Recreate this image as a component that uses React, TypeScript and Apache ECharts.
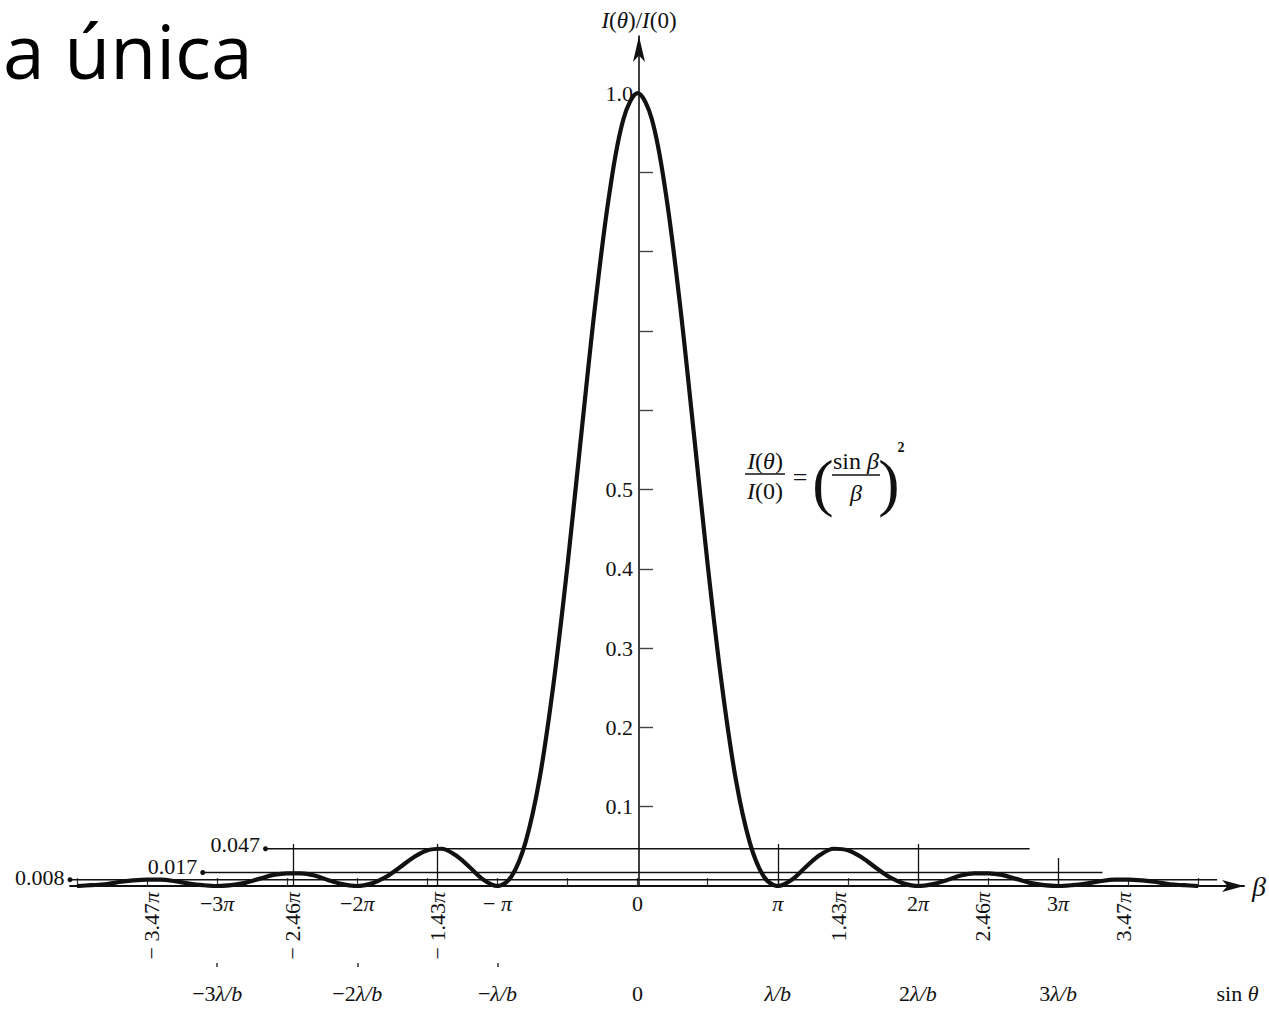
import React, { useEffect, useRef } from "react";
import * as echarts from "echarts";

// beta / pi sample positions and intensity I(θ)/I(0)
const BETA_OVER_PI = [
  -4.0, -3.9, -3.8, -3.7, -3.6, -3.5, -3.4, -3.3, -3.2, -3.1,
  -3.0, -2.9, -2.8, -2.7, -2.6, -2.5, -2.4, -2.3, -2.2, -2.1,
  -2.0, -1.9, -1.8, -1.7, -1.6, -1.5, -1.4, -1.3, -1.2, -1.1,
  -1.0, -0.9, -0.8, -0.7, -0.6, -0.5, -0.4, -0.3, -0.2, -0.1,
  0.0,
  0.1, 0.2, 0.3, 0.4, 0.5, 0.6, 0.7, 0.8, 0.9, 1.0,
  1.1, 1.2, 1.3, 1.4, 1.5, 1.6, 1.7, 1.8, 1.9, 2.0,
  2.1, 2.2, 2.3, 2.4, 2.5, 2.6, 2.7, 2.8, 2.9, 3.0,
  3.1, 3.2, 3.3, 3.4, 3.5, 3.6, 3.7, 3.8, 3.9, 4.0,
];
const INTENSITY = [
  0.0, 0.001, 0.002, 0.005, 0.007, 0.008, 0.008, 0.006, 0.003, 0.001,
  0.0, 0.001, 0.004, 0.009, 0.014, 0.016, 0.016, 0.013, 0.007, 0.002,
  0.0, 0.003, 0.011, 0.023, 0.036, 0.045, 0.047, 0.039, 0.024, 0.008,
  0.0, 0.012, 0.055, 0.135, 0.255, 0.405, 0.573, 0.737, 0.875, 0.968,
  1.0,
  0.968, 0.875, 0.737, 0.573, 0.405, 0.255, 0.135, 0.055, 0.012, 0.0,
  0.008, 0.024, 0.039, 0.047, 0.045, 0.036, 0.023, 0.011, 0.003, 0.0,
  0.002, 0.007, 0.013, 0.016, 0.016, 0.014, 0.009, 0.004, 0.001, 0.0,
  0.001, 0.003, 0.006, 0.008, 0.008, 0.007, 0.005, 0.002, 0.001, 0.0,
];

// secondary-maxima reference levels
const REF_LEVELS = [0.047, 0.017, 0.008];
const REF_LABELS = ["0.047", "0.017", "0.008"];
const REF_START = [-2.655, -3.103, -4.05];
const REF_END = [2.797, 3.317, 4.135];

// axis ticks / labels (beta in units of pi)
const PI_LABELS = [-3, -2, -1, 0, 1, 2, 3];
const HALF_PI_TICKS = [-4, -3.5, -3, -2.5, -2, -1.5, -1, -0.5, 0, 0.5, 1, 1.5, 2, 2.5, 3, 3.5, 4];
const MAXIMA_LABELS = [-3.47, -2.46, -1.43, 1.43, 2.46, 3.47];
const TALL_TICKS = [-2.46, -1.43, 1, 2];
const MID_TICKS = [3];
const SIN_LABELS = [-3, -2, -1, 0, 1, 2, 3, 4.28];
const SIN_MARKS = [-3, -2, -1];
const Y_LABELS = [0.1, 0.2, 0.3, 0.4, 0.5, 1.0];
const Y_TICKS = [0.1, 0.2, 0.3, 0.4, 0.5, 0.6, 0.7, 0.8, 0.9];

const X_MIN = -4.05;
const X_MAX = 4.327;
const Y_MAX = 1.072;

const GRID_LEFT = 70;
const GRID_RIGHT = 22;
const GRID_TOP = 36;
const GRID_BOTTOM = 123;
const Y_AXIS_PX = 639;
const REF_LABEL_RAISE = [-4, -6, -2];

const SERIF = '"Liberation Serif", "DejaVu Serif", serif';
const INK = "#111";
const FS = 22;

const rich = {
  n: { fontFamily: SERIF, fontSize: FS, color: INK },
  i: { fontFamily: SERIF, fontSize: FS, color: INK, fontStyle: "italic" },
};
const eqRich = {
  n: { fontFamily: SERIF, fontSize: 24, color: INK },
  i: { fontFamily: SERIF, fontSize: 24, color: INK, fontStyle: "italic" },
};
const nameRich = {
  n: { fontFamily: SERIF, fontSize: 23, color: INK },
  i: { fontFamily: SERIF, fontSize: 23, color: INK, fontStyle: "italic" },
};

function piLabel(v: number): string {
  if (v === 0) return "{n|0}";
  const sign = v < 0 ? "−" : "";
  const a = Math.abs(v);
  const coef = a === 1 ? "" : String(a);
  const head = sign + (sign && !coef ? " " : "") + coef;
  return (head ? `{n|${head}}` : "") + "{i|π}";
}

function sinLabel(v: number): string {
  if (v === 0) return "{n|0}";
  if (v > 4) return "{n|sin }{i|θ}";
  const sign = v < 0 ? "−" : "";
  const a = Math.abs(v);
  const coef = a === 1 ? "" : String(a);
  const head = sign + coef;
  return (head ? `{n|${head}}` : "") + "{i|λ/b}";
}

function baseX(extra: any) {
  return {
    type: "value",
    min: X_MIN,
    max: X_MAX,
    position: "bottom",
    splitLine: { show: false },
    axisLine: { show: false, onZero: false },
    axisTick: { show: false },
    axisLabel: { show: false },
    ...extra,
  };
}

export default function App() {
  const ref = useRef<HTMLDivElement>(null);

  useEffect(() => {
    if (!ref.current) return;
    const chart = echarts.init(ref.current, undefined, { renderer: "svg" });

    const refSeries = REF_LEVELS.map((lvl, k) => ({
      type: "line",
      xAxisIndex: 0,
      yAxisIndex: 0,
      clip: false,
      silent: true,
      lineStyle: { color: INK, width: 1.5 },
      itemStyle: { color: INK },
      data: [
        {
          value: [REF_START[k], lvl],
          symbol: "circle",
          symbolSize: 5,
          label: {
            show: true,
            position: "left",
            distance: 3,
            offset: [0, REF_LABEL_RAISE[k]],
            formatter: REF_LABELS[k],
            fontFamily: SERIF,
            fontSize: FS,
            color: INK,
          },
        },
        { value: [REF_END[k], lvl], symbol: "none" },
      ],
    }));

    const t = (text: string, x: number, y: number, style: any = {}) => ({
      type: "text",
      x,
      y,
      silent: true,
      style: { text, align: "center", verticalAlign: "middle", fill: INK, ...style },
    });

    const option: any = {
      animation: false,
      backgroundColor: "#fff",
      grid: { left: GRID_LEFT, right: GRID_RIGHT, top: GRID_TOP, bottom: GRID_BOTTOM, containLabel: false },
      xAxis: [
        baseX({
          name: "β",
          nameLocation: "end",
          nameGap: 8,
          nameTextStyle: { fontFamily: SERIF, fontSize: 28, fontStyle: "italic", color: INK },
          axisLine: {
            show: true,
            onZero: false,
            symbol: ["none", "arrow"],
            symbolSize: [9, 22],
            lineStyle: { color: INK, width: 1.8 },
          },
          axisTick: {
            show: true,
            inside: true,
            length: 8,
            customValues: HALF_PI_TICKS,
            lineStyle: { color: "#333", width: 1.2 },
          },
          axisLabel: {
            show: true,
            margin: 6,
            customValues: PI_LABELS,
            formatter: (v: number) => piLabel(v),
            rich,
          },
        }),
        baseX({
          axisTick: {
            show: true,
            inside: true,
            length: 42,
            customValues: TALL_TICKS,
            lineStyle: { color: INK, width: 1.3 },
          },
          axisLabel: {
            show: true,
            rotate: 90,
            margin: 6,
            customValues: MAXIMA_LABELS,
            formatter: (v: number) => {
              const sign = v < 0 ? "− " : "";
              return `{n|${sign}${Math.abs(v).toFixed(2)}}{i|π}`;
            },
            rich,
          },
        }),
        baseX({
          axisTick: {
            show: true,
            inside: true,
            length: 28,
            customValues: MID_TICKS,
            lineStyle: { color: INK, width: 1.3 },
          },
        }),
        baseX({
          offset: 77,
          axisTick: {
            show: true,
            inside: false,
            length: 4,
            customValues: SIN_MARKS,
            lineStyle: { color: "#333", width: 1.5 },
          },
          axisLabel: {
            show: true,
            margin: 19,
            customValues: SIN_LABELS,
            formatter: (v: number) => sinLabel(v),
            rich,
          },
        }),
      ],
      yAxis: {
        type: "value",
        min: 0,
        max: Y_MAX,
        position: "left",
        offset: -(Y_AXIS_PX - GRID_LEFT),
        splitLine: { show: false },
        name: "{i|I}{n|(}{i|θ}{n|)/}{i|I}{n|(0)}",
        nameLocation: "end",
        nameGap: 4,
        nameTextStyle: { rich: nameRich, align: "center" },
        axisLine: {
          show: true,
          onZero: false,
          symbol: ["none", "arrow"],
          symbolSize: [9, 26],
          lineStyle: { color: INK, width: 1.6 },
        },
        axisTick: {
          show: true,
          inside: true,
          length: 14,
          customValues: Y_TICKS,
          lineStyle: { color: "#444", width: 1.4 },
        },
        axisLabel: {
          show: true,
          margin: 6,
          customValues: Y_LABELS,
          formatter: (v: number) => v.toFixed(1),
          fontFamily: SERIF,
          fontSize: FS,
          color: INK,
        },
      },
      series: [
        ...refSeries,
        {
          type: "line",
          xAxisIndex: 0,
          yAxisIndex: 0,
          smooth: 0.35,
          showSymbol: false,
          silent: true,
          lineStyle: { color: INK, width: 4.2 },
          data: BETA_OVER_PI.map((b, k) => [b, INTENSITY[k]]),
          z: 5,
        },
      ],
      graphic: [
        {
          type: "text",
          left: 3,
          top: 12,
          silent: true,
          style: {
            text: "a única",
            font: '75px "Open Sans", sans-serif',
            fill: "#000",
          },
        },
        t("{i|I}{n|(}{i|θ}{n|)}", 765, 461, { rich: eqRich }),
        { type: "line", silent: true, shape: { x1: 745, y1: 474, x2: 785, y2: 474 }, style: { stroke: INK, lineWidth: 1.5 } },
        t("{i|I}{n|(0)}", 765, 491, { rich: eqRich }),
        t("=", 800, 477, { font: `26px ${SERIF}` }),
        t("(", 823, 482, { font: `64px ${SERIF}` }),
        t("{n|sin }{i|β}", 856, 461, { rich: eqRich }),
        { type: "line", silent: true, shape: { x1: 832, y1: 475, x2: 880, y2: 475 }, style: { stroke: INK, lineWidth: 1.5 } },
        t("{i|β}", 856, 493, { rich: eqRich }),
        t(")", 889, 482, { font: `64px ${SERIF}` }),
        t("2", 901, 447, { font: `bold 14px ${SERIF}` }),
      ],
    };

    chart.setOption(option);
    return () => chart.dispose();
  }, []);

  return (
    <div
      ref={ref}
      style={{ position: "fixed", left: 0, top: 0, width: 1269, height: 1009, background: "#fff" }}
    />
  );
}
